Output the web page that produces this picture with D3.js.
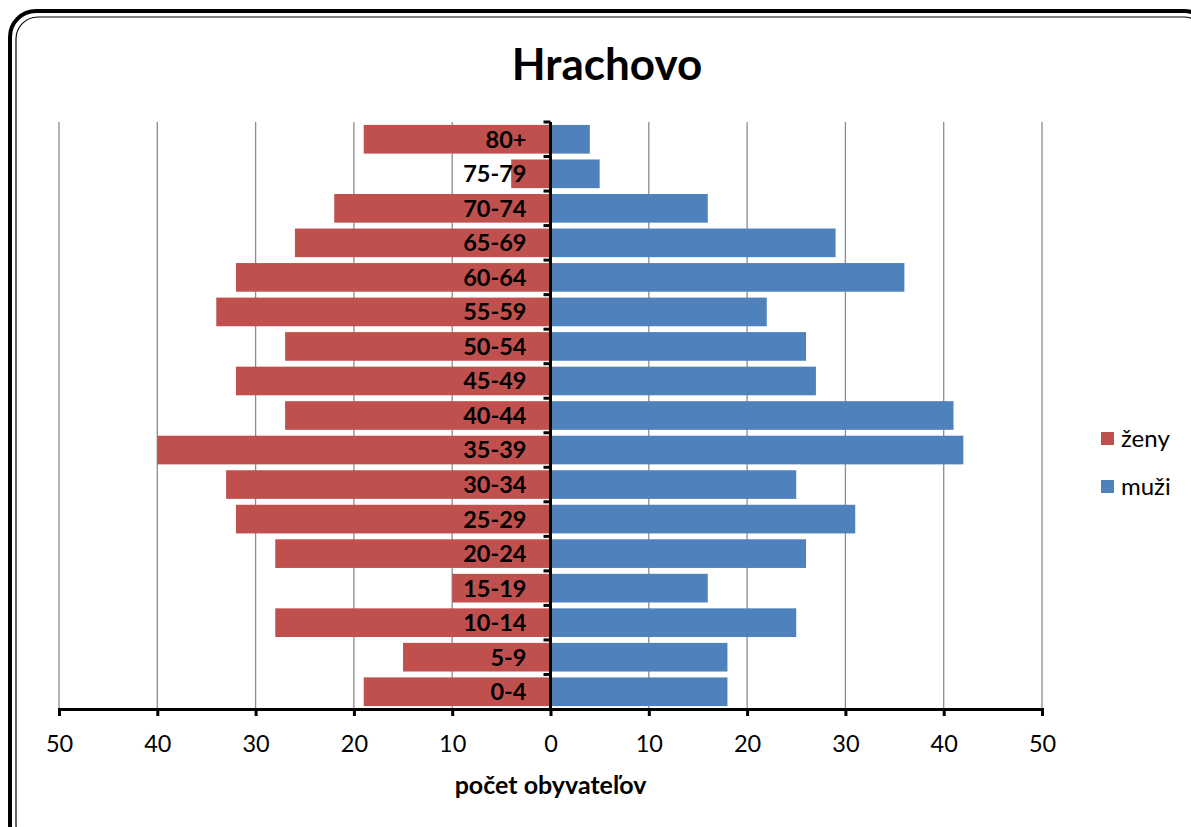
<!DOCTYPE html>
<html lang="sk">
  <head>
    <meta charset="utf-8"/>
    <title>Hrachovo</title>
    <style>
      body { margin: 0; background: #fff; }
      svg text { font-family: Lato, "Open Sans", sans-serif; }
    </style>
  </head>
  <body>
    <svg id="chart"></svg>
    <script src="https://d3js.org/d3.v7.min.js"></script>
    <script>
      const width = 1191;
      const height = 827;

      // age groups, top to bottom
      const ageGroups = ["80+", "75-79", "70-74", "65-69", "60-64", "55-59", "50-54", "45-49",
        "40-44", "35-39", "30-34", "25-29", "20-24", "15-19", "10-14", "5-9", "0-4"];
      const zeny = [19, 4, 22, 26, 32, 34, 27, 32, 27, 40, 33, 32, 28, 10, 28, 15, 19];
      const muzi = [4, 5, 16, 29, 36, 22, 26, 27, 41, 42, 25, 31, 26, 16, 25, 18, 18];
      const xTicks = [-50, -40, -30, -20, -10, 0, 10, 20, 30, 40, 50];
      const seriesNames = ["ženy", "muži"];
      const seriesColors = ["#C0504D", "#4F81BD"];

      const plot = {left: 59, right: 1042, top: 122, bottom: 709};

      const svg = d3.select("#chart")
        .attr("width", width)
        .attr("height", height);

      // frame (double line, rounded)
      svg.append("rect")
        .attr("x", 10).attr("y", 11)
        .attr("width", 1200).attr("height", 840)
        .attr("rx", 26)
        .attr("fill", "none").attr("stroke", "#000").attr("stroke-width", 4);
      svg.append("rect")
        .attr("x", 16).attr("y", 17)
        .attr("width", 1190).attr("height", 830)
        .attr("rx", 22)
        .attr("fill", "none").attr("stroke", "#000").attr("stroke-width", 1.2);

      const x = d3.scaleLinear().domain([-50, 50]).range([plot.left, plot.right]);
      const y = d3.scaleBand().domain(ageGroups).range([plot.top, plot.bottom]).paddingInner(0.17).paddingOuter(0.085);
      const yStep = d3.scaleBand().domain(ageGroups).range([plot.top, plot.bottom]);

      // gridlines
      svg.append("g")
        .selectAll("line")
        .data(xTicks)
        .join("line")
          .attr("x1", d => x(d)).attr("x2", d => x(d))
          .attr("y1", plot.top).attr("y2", plot.bottom)
          .attr("stroke", "#8c8c8c").attr("stroke-width", 1.3);

      // bars
      svg.append("g")
        .selectAll("rect")
        .data(ageGroups)
        .join("rect")
          .attr("x", (d, i) => x(-zeny[i]))
          .attr("y", d => y(d))
          .attr("width", (d, i) => x(0) - x(-zeny[i]))
          .attr("height", y.bandwidth())
          .attr("fill", seriesColors[0]);

      svg.append("g")
        .selectAll("rect")
        .data(ageGroups)
        .join("rect")
          .attr("x", x(0))
          .attr("y", d => y(d))
          .attr("width", (d, i) => x(muzi[i]) - x(0))
          .attr("height", y.bandwidth())
          .attr("fill", seriesColors[1]);

      // x axis
      const xAxis = svg.append("g")
        .attr("transform", "translate(0," + plot.bottom + ")")
        .call(d3.axisBottom(x).tickValues(xTicks).tickFormat(d => Math.abs(d)).tickSize(7).tickPadding(19));
      xAxis.select(".domain").attr("stroke", "#000").attr("stroke-width", 3);
      xAxis.selectAll(".tick line").attr("stroke", "#000").attr("stroke-width", 3);
      xAxis.selectAll(".tick text")
        .attr("font-size", 23.5).attr("fill", "#000")
        .style("font-family", "Lato, 'Open Sans', sans-serif");

      // y axis at zero
      const yAxis = svg.append("g")
        .attr("transform", "translate(" + x(0) + ",0)");
      yAxis.append("line")
        .attr("x1", 0).attr("x2", 0)
        .attr("y1", plot.top).attr("y2", plot.bottom)
        .attr("stroke", "#000").attr("stroke-width", 3);
      yAxis.selectAll("line.tk")
        .data(ageGroups)
        .join("line")
          .attr("class", "tk")
          .attr("x1", -7).attr("x2", 0)
          .attr("y1", d => yStep(d)).attr("y2", d => yStep(d))
          .attr("stroke", "#000").attr("stroke-width", 3);
      yAxis.selectAll("text")
        .data(ageGroups)
        .join("text")
          .attr("x", -24)
          .attr("y", d => y(d) + y.bandwidth() / 2)
          .attr("dy", "0.36em")
          .attr("text-anchor", "end")
          .attr("font-size", 23.5)
          .attr("font-weight", "bold")
          .text(d => d);

      // title
      svg.append("text")
        .attr("x", 607).attr("y", 80)
        .attr("text-anchor", "middle")
        .attr("font-size", 44)
        .attr("font-weight", "bold")
        .text("Hrachovo");

      // axis title
      svg.append("text")
        .attr("x", x(0)).attr("y", 794)
        .attr("text-anchor", "middle")
        .attr("font-size", 25)
        .attr("font-weight", "bold")
        .text("počet obyvateľov");

      // legend
      const legend = svg.append("g")
        .selectAll("g")
        .data(seriesNames)
        .join("g")
          .attr("transform", (d, i) => "translate(1101," + (432 + i * 48) + ")");
      legend.append("rect")
        .attr("width", 13).attr("height", 13)
        .attr("fill", (d, i) => seriesColors[i]);
      legend.append("text")
        .attr("x", 20).attr("y", 6.5)
        .attr("dy", "0.36em")
        .attr("font-size", 24)
        .text(d => d);
    </script>
  </body>
</html>
